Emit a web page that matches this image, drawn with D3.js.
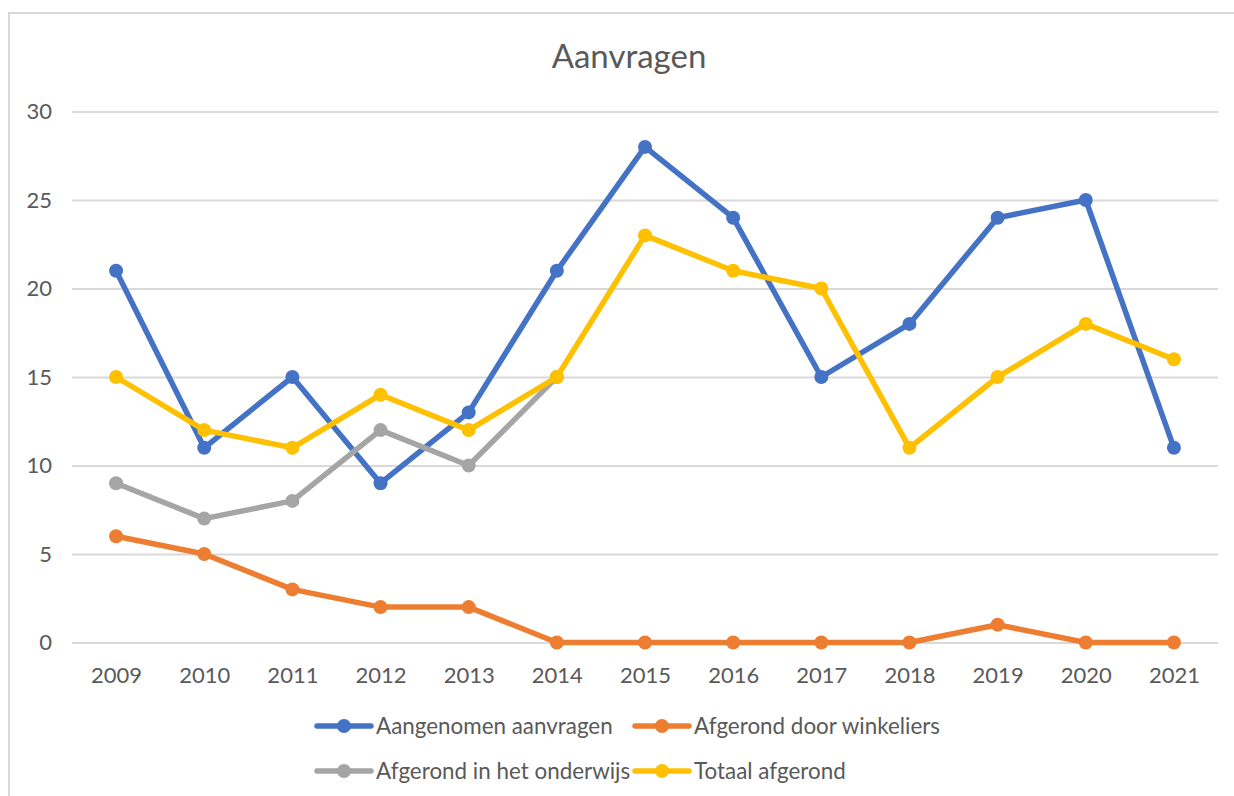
<!DOCTYPE html>
<html><head><meta charset="utf-8">
<script src="https://cdn.jsdelivr.net/npm/d3@7"></script>
<style>html,body{margin:0;padding:0;background:#fff;}svg{display:block;}</style>
</head><body>
<svg id="chart" width="1234" height="796"></svg>
<script>
const years = ["2009","2010","2011","2012","2013","2014","2015","2016","2017","2018","2019","2020","2021"];
const aangenomen = [21, 11, 15, 9, 13, 21, 28, 24, 15, 18, 24, 25, 11];
const winkeliers = [6, 5, 3, 2, 2, 0, 0, 0, 0, 0, 1, 0, 0];
const onderwijs = [9, 7, 8, 12, 10, 15, null, null, null, null, null, null, null];
const totaal = [15, 12, 11, 14, 12, 15, 23, 21, 20, 11, 15, 18, 16];
const yTicks = [0, 5, 10, 15, 20, 25, 30];
const seriesNames = ["Aangenomen aanvragen", "Afgerond door winkeliers", "Afgerond in het onderwijs", "Totaal afgerond"];
const seriesColors = ["#4472C4", "#ED7D31", "#A5A5A5", "#FFC000"];
const seriesData = [aangenomen, winkeliers, onderwijs, totaal];

const svg = d3.select("#chart");
const font = "Lato, 'Open Sans', sans-serif";
const textColor = "#595959";

svg.append("rect").attr("x", 9).attr("y", 13).attr("width", 1300).attr("height", 900)
  .attr("fill", "#fff").attr("stroke", "#D9D9D9").attr("stroke-width", 2);

const x = d3.scalePoint().domain(years).range([72, 1218]).padding(0.5);
const y = d3.scaleLinear().domain([0, 30]).range([642.5, 111.5]);

svg.append("text").attr("x", 629).attr("y", 68).attr("text-anchor", "middle")
  .attr("font-family", font).attr("font-size", 33).attr("fill", textColor).text("Aanvragen");

const yAxis = d3.axisLeft(y).tickValues(yTicks).tickSize(-(1218 - 72)).tickPadding(20);
const gy = svg.append("g").attr("transform", "translate(72,0)").call(yAxis);
gy.select(".domain").remove();
gy.selectAll(".tick line").attr("stroke", "#D9D9D9").attr("stroke-width", 2);
gy.selectAll(".tick text").attr("font-family", font).attr("font-size", 22).attr("fill", textColor);

const xAxis = d3.axisBottom(x).tickSize(0).tickPadding(22);
const gx = svg.append("g").attr("transform", "translate(0,642.5)").call(xAxis);
gx.select(".domain").remove();
gx.selectAll(".tick text").attr("font-family", font).attr("font-size", 22).attr("fill", textColor)
  .attr("dy", null).attr("y", 40);

const line = d3.line().defined(d => d != null).x((d, i) => x(years[i])).y(d => y(d));

seriesData.forEach((data, si) => {
  const g = svg.append("g");
  g.append("path").datum(data).attr("d", line).attr("fill", "none")
    .attr("stroke", seriesColors[si]).attr("stroke-width", 5.5).attr("stroke-linejoin", "round").attr("stroke-linecap", "round");
  g.selectAll("circle").data(data.map((v, i) => ({v, i})).filter(d => d.v != null)).enter()
    .append("circle").attr("cx", d => x(years[d.i])).attr("cy", d => y(d.v)).attr("r", 7)
    .attr("fill", seriesColors[si]);
});

const legendPos = [[315, 726], [633, 726], [315, 771], [633, 771]];
seriesNames.forEach((name, i) => {
  const [lx, ly] = legendPos[i];
  const g = svg.append("g");
  g.append("line").attr("x1", lx + 2).attr("x2", lx + 56).attr("y1", ly).attr("y2", ly)
    .attr("stroke", seriesColors[i]).attr("stroke-width", 5.5).attr("stroke-linecap", "round");
  g.append("circle").attr("cx", lx + 29).attr("cy", ly).attr("r", 7).attr("fill", seriesColors[i]);
  g.append("text").attr("x", lx + 61).attr("y", ly + 8)
    .attr("font-family", font).attr("font-size", 22.4).attr("fill", textColor).text(name);
});
</script>
</body></html>
